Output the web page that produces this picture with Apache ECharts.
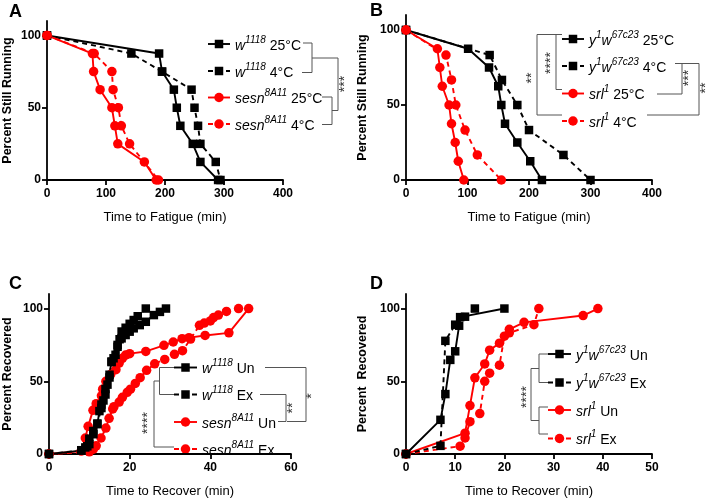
<!DOCTYPE html>
<html><head><meta charset="utf-8">
<script src="https://cdn.jsdelivr.net/npm/echarts@6/dist/echarts.min.js"></script>
<style>html,body{margin:0;padding:0;background:#fff}#c{width:708px;height:499px}</style>
</head><body><div id="c"></div>
<script>
// ---------- DATA ----------
// Panel A (Time to Fatigue, min ; Percent Still Running)
const A_w1118_25 = [[0,100],[190,87.5],[195,75],[215,62.5],[220,50],[226,37.5],[247,25],[260,12.5],[290,0]];
const A_w1118_4  = [[0,100],[143,87.5],[195,75],[245,62.5],[250,50],[256,37.5],[260,25],[286,12.5],[294,0]];
const A_sesn_25  = [[0,100],[77,87.5],[79,75],[90,62.5],[110,50],[115,37.5],[120,25],[165,12.5],[185,0]];
const A_sesn_4   = [[0,100],[80,87.5],[110,75],[112,62.5],[121,50],[126,37.5],[140,25],[189,0]];
// Panel B
const B_y1w_25 = [[0,100],[101,87.5],[135,75],[150,62.5],[155,50],[161,37.5],[181,25],[202,12.5],[221,0]];
const B_y1w_4  = [[0,100],[136,83.3],[156,66.7],[181,50],[200,33.3],[256,16.7],[300,0]];
const B_srl_25 = [[0,100],[51,87.5],[55,75],[59,62.5],[70,50],[74,37.5],[80,25],[85,12.5],[94,0]];
const B_srl_4  = [[0,100],[65,83.3],[74,66.7],[81,50],[96,33.3],[116,16.7],[155,0]];
// Panel C (Time to Recover, min ; Percent Recovered)
const C_w1118_Un = [[0,0],[8,2.3],[9,4.5],[10,6.8],[11,13.6],[12,20.5],[12.5,29.5],[13,34],[14,40.9],[14.5,47.7],[15,54.5],[15.5,63.6],[16.5,68.2],[17,75],[18,79.5],[19,81.8],[20,84.1],[21,86.4],[22.5,88.6],[24,90.9],[26,95.5],[27.5,97.7],[29,100]];
const C_w1118_Ex = [[0,0],[8,2.6],[9.5,5.3],[10,10.5],[11,15.8],[12,21],[13,31.6],[13.5,36.8],[14,44.7],[15,52.6],[15.5,63.2],[16,65.8],[17,73.7],[17.5,78.9],[18,84.2],[19,86.8],[20,89.5],[21,92.1],[22,94.7],[24,100]];
const C_sesn_Un = [[0,0],[8,2],[9,11],[9.7,19],[10.9,30],[11.7,34.6],[13,40],[13.3,44.6],[14.1,50],[15.3,54.7],[16.6,58],[17.4,62.5],[18.2,65.8],[19,68],[20,69],[24,70.5],[28.5,74.7],[30.8,77],[33,79.3],[34.7,80],[38.7,81.5],[44.6,83.3],[49.5,100]];
const C_sesn_Ex = [[0,0],[10,1.5],[11,3.3],[11.7,5.6],[12.9,11],[14.1,17.8],[14.9,24.5],[15.8,31],[16.1,32.5],[17.4,35.7],[18.2,39],[19.4,42.4],[20.2,44.6],[21.4,48.5],[22.6,52.5],[24.2,57.5],[26.2,62],[28.7,65],[31.1,68.5],[33.1,71],[35.1,79],[37.3,88.5],[38.5,90],[40,91.5],[40.8,93.8],[42,95.5],[44,98],[47,100]];
// Panel D
const D_y1w_Un = [[0,0],[7,23.5],[8,41.2],[9,64.7],[10,70.6],[10.8,88.2],[11,94.1],[20,100]];
const D_y1w_Ex = [[0,0],[7,5.6],[8,77.8],[10,88.9],[12,94.4],[14,100]];
const D_srl_Un = [[0,0],[12,14.3],[13,33.3],[14,52.4],[16,61.9],[17,71.4],[19,76.2],[21,85.7],[24,90.5],[36,95.2],[39,100]];
const D_srl_Ex = [[0,0],[11,5.4],[12,11],[13,22.2],[15,27.8],[16,50],[17,55.6],[19,61.1],[20,81],[21,83.3],[26,88.9],[27,100]];

const xTicksA = [0,100,200,300,400];
const xTicksC = [0,20,40,60];
const xTicksD = [0,10,20,30,40,50];
const yTicks = [0,50,100];

// ---------- STYLE ----------
const FF = '"Liberation Sans", Arial, Helvetica, sans-serif';
const RED = '#ff0000', BLK = '#000000', GRAY = '#555555';

const grids = [
  {left:43, top:21, width:240, height:159},
  {left:406, top:15, width:246, height:165},
  {left:43, top:294, width:248, height:164},
  {left:406, top:294, width:246, height:164}
];
const xInfo = [
  {ticks:xTicksA, name:'Time to Fatigue (min)'},
  {ticks:xTicksA, name:'Time to Fatigue (min)'},
  {ticks:xTicksC, name:'Time to Recover (min)'},
  {ticks:xTicksD, name:'Time to Recover (min)'}
];
const yNames = ['Percent Still Running','Percent Still Running','Percent Recovered','Percent  Recovered'];
const yGaps = [33,37,35,37];

const axisLine = {show:true, onZero:false, lineStyle:{color:'#000', width:1.8}};
const axisTick = {show:true, inside:false, length:5, lineStyle:{color:'#000', width:1.8}};
const axisLabel = {color:'#000', fontWeight:'bold', fontSize:12, fontFamily:FF};

const xAxes = xInfo.map((xi,i)=>({
  gridIndex:i, type:'value', min:xi.ticks[0], max:xi.ticks[xi.ticks.length-1],
  interval:xi.ticks[1]-xi.ticks[0],
  axisLine, axisTick, axisLabel:Object.assign({margin:8}, axisLabel), splitLine:{show:false},
  name:xi.name, nameLocation:'middle', nameGap:31,
  nameTextStyle:{color:'#000', fontSize:13, fontFamily:FF}
}));
const yAxes = yNames.map((n,i)=>({
  gridIndex:i, type:'value', min:0, max:110, interval:50,
  axisLine, axisTick:Object.assign({customValues:yTicks}, axisTick),
  axisLabel:Object.assign({customValues:yTicks, margin:6}, axisLabel), splitLine:{show:false},
  name:n, nameLocation:'middle', nameGap:yGaps[i],
  nameTextStyle:{color:'#000', fontSize:12.5, fontWeight:'bold', fontFamily:FF}
}));

function S(data, gi, color, sym, dashed){
  return {
    type:'line', data, xAxisIndex:gi, yAxisIndex:gi,
    symbol: sym==='sq' ? 'rect' : 'circle',
    symbolSize: sym==='sq' ? 8.5 : 9.5,
    showSymbol:true, animation:false, silent:true,
    lineStyle:{color, width:1.9, type: dashed ? [5,4] : 'solid'},
    itemStyle:{color}
  };
}
const series = [
  S(A_w1118_25,0,BLK,'sq',false), S(A_w1118_4,0,BLK,'sq',true),
  S(A_sesn_25,0,RED,'ci',false), S(A_sesn_4,0,RED,'ci',true),
  S(B_y1w_25,1,BLK,'sq',false), S(B_y1w_4,1,BLK,'sq',true),
  S(B_srl_25,1,RED,'ci',false), S(B_srl_4,1,RED,'ci',true),
  S(C_sesn_Un,2,RED,'ci',false), S(C_sesn_Ex,2,RED,'ci',true),
  S(C_w1118_Un,2,BLK,'sq',false), S(C_w1118_Ex,2,BLK,'sq',true),
  S(D_srl_Un,3,RED,'ci',false), S(D_srl_Ex,3,RED,'ci',true),
  S(D_y1w_Un,3,BLK,'sq',false), S(D_y1w_Ex,3,BLK,'sq',true)
];

// ---------- LEGENDS & ANNOTATIONS (graphic) ----------
const rich = {
  i:{fontStyle:'italic', fontSize:14, lineHeight:18, fontFamily:FF, fill:'#000', verticalAlign:'bottom'},
  s:{fontStyle:'italic', fontSize:10, lineHeight:11, fontFamily:FF, fill:'#000', verticalAlign:'top'},
  n:{fontSize:14, lineHeight:18, fontFamily:FF, fill:'#000', verticalAlign:'bottom'}
};
const G = [];
function legendItem(x1, x2, y, color, sym, dashed, text){
  G.push({type:'line', shape:{x1, y1:y, x2, y2:y}, style:{stroke:color, lineWidth:1.9, lineDash: dashed?[5,4]:null}, silent:true});
  const cx = (x1+x2)/2;
  if (sym==='sq') G.push({type:'rect', shape:{x:cx-4.25, y:y-4.25, width:8.5, height:8.5}, style:{fill:color}, silent:true});
  else G.push({type:'circle', shape:{cx, cy:y, r:4.75}, style:{fill:color}, silent:true});
  G.push({type:'text', x:x2+5, y:y-9, style:{text, rich, fill:'#000', align:'left', verticalAlign:'top'}, silent:true});
}
function poly(points){ G.push({type:'polyline', shape:{points}, style:{stroke:GRAY, lineWidth:1, fill:null}, silent:true}); }
function stars(x, y, t){ G.push({type:'text', x, y, rotation:Math.PI/2, style:{text:t, fontSize:14, fontFamily:FF, fill:'#333', align:'center', verticalAlign:'middle'}, silent:true}); }
function letter(x, y, t){ G.push({type:'text', x, y, style:{text:t, fontSize:18, fontWeight:'bold', fontFamily:FF, fill:'#000', align:'left', verticalAlign:'top'}, silent:true}); }

letter(9,3,'A'); letter(370,2,'B'); letter(9,275,'C'); letter(370,275,'D');

// A legend
legendItem(208,230,44,BLK,'sq',false,'{i|w}{s|1118}{n| 25°C}');
legendItem(208,230,71,BLK,'sq',true,'{i|w}{s|1118}{n| 4°C}');
legendItem(208,230,97.5,RED,'ci',false,'{i|sesn}{s|8A11}{n| 25°C}');
legendItem(208,230,124,RED,'ci',true,'{i|sesn}{s|8A11}{n| 4°C}');
poly([[303,43],[312,43],[312,72.5],[302,72.5]]);
poly([[312,58],[338,58],[338,110.5],[332,110.5]]);
poly([[322,97],[332,97],[332,124.5],[322,124.5]]);
stars(345,84,'***');

// B legend
legendItem(562,584,39,BLK,'sq',false,'{i|y}{s|1}{i|w}{s|67c23}{n| 25°C}');
legendItem(562,584,66,BLK,'sq',true,'{i|y}{s|1}{i|w}{s|67c23}{n| 4°C}');
legendItem(562,584,93.5,RED,'ci',false,'{i|srl}{s|1}{n| 25°C}');
legendItem(562,584,121,RED,'ci',true,'{i|srl}{s|1}{n| 4°C}');
poly([[562,34.5],[537,34.5],[537,115],[562,115]]);
poly([[556,34.5],[556,89.5],[562,89.5]]);
stars(551,63,'****'); stars(532,78,'**');
poly([[675,63.5],[699,63.5],[699,115],[647,115]]);
poly([[682,63.5],[682,94],[657,94]]);
stars(689,78,'***'); stars(706,88,'**');

// C legend
legendItem(174,197,367.5,BLK,'sq',false,'{i|w}{s|1118}{n| Un}');
legendItem(174,197,394.5,BLK,'sq',true,'{i|w}{s|1118}{n| Ex}');
legendItem(174,197,422,RED,'ci',false,'{i|sesn}{s|8A11}{n| Un}');
legendItem(174,197,449,RED,'ci',true,'{i|sesn}{s|8A11}{n| Ex}');
poly([[174,367.5],[159.5,367.5],[159.5,394.5],[174,394.5]]);
poly([[159.5,381],[154,381],[154,447],[174,447]]);
stars(148,423,'****');
poly([[265,367.5],[306,367.5],[306,421.5],[287,421.5]]);
poly([[260,394.5],[286,394.5],[286,421.5],[278,421.5]]);
stars(293,408,'**'); stars(312,396,'*');

// D legend
legendItem(548,571,354,BLK,'sq',false,'{i|y}{s|1}{i|w}{s|67c23}{n| Un}');
legendItem(548,571,382.5,BLK,'sq',true,'{i|y}{s|1}{i|w}{s|67c23}{n| Ex}');
legendItem(548,571,410,RED,'ci',false,'{i|srl}{s|1}{n| Un}');
legendItem(548,571,438.5,RED,'ci',true,'{i|srl}{s|1}{n| Ex}');
poly([[548,354],[539,354],[539,382.5],[548,382.5]]);
poly([[548,407],[539,407],[539,434],[548,434]]);
poly([[539,368.5],[531,368.5],[531,420.5],[539,420.5]]);
stars(527,397,'****');

const chart = echarts.init(document.getElementById('c'), null, {renderer:'canvas'});
chart.setOption({
  animation:false,
  backgroundColor:'#fff',
  textStyle:{fontFamily:FF},
  grid:grids.map(g=>Object.assign({containLabel:false}, g)),
  xAxis:xAxes, yAxis:yAxes, series, graphic:G
});
</script></body></html>
